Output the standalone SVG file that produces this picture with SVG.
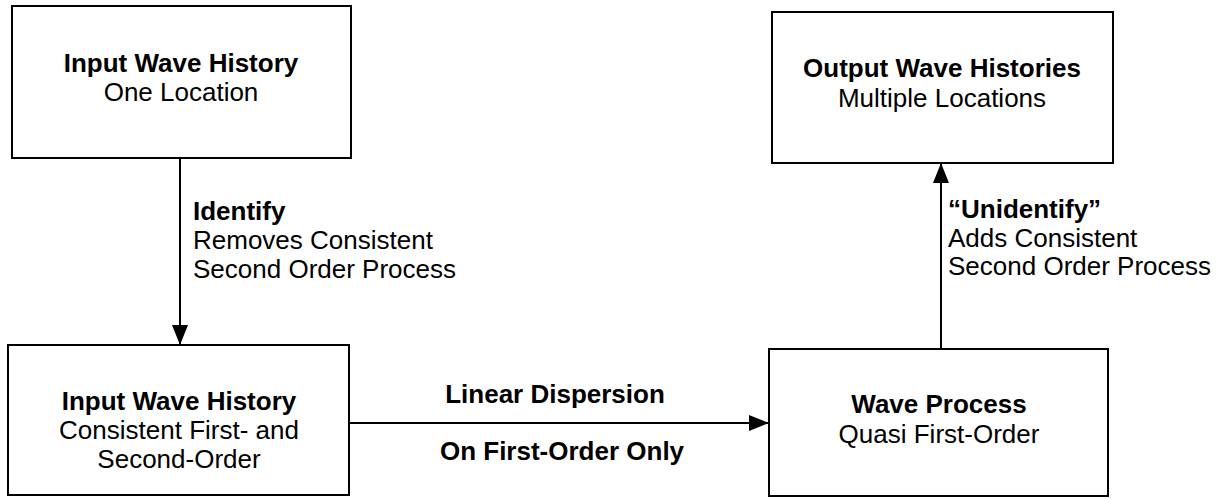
<svg xmlns="http://www.w3.org/2000/svg" width="1217" height="499" viewBox="0 0 1217 499">
  <style>
    .box { fill: #ffffff; stroke: #000000; stroke-width: 2; }
    .wire { fill: none; stroke: #000000; stroke-width: 2; }
    text { font-family: "Liberation Sans", Arial, sans-serif; font-size: 26px; fill: #000000; }
    .title { font-weight: bold; }
    .mid { text-anchor: middle; }
  </style>
  <defs>
    <marker id="arrow" viewBox="0 0 20 16" refX="20" refY="8" markerWidth="20" markerHeight="16" markerUnits="userSpaceOnUse" orient="auto">
      <path d="M0,0 L20,8 L0,16 Z" fill="#000000"/>
    </marker>
  </defs>
  <rect width="1217" height="499" fill="#ffffff"/>

  <g id="node-input-one-location">
    <rect class="box" x="12" y="6" width="339" height="152"/>
    <text class="title mid" x="181" y="72">Input Wave History</text>
    <text class="mid" x="181" y="101">One Location</text>
  </g>

  <g id="node-output-histories">
    <rect class="box" x="772" y="12" width="341" height="151"/>
    <text class="title mid" x="942" y="77">Output Wave Histories</text>
    <text class="mid" x="942" y="107">Multiple Locations</text>
  </g>

  <g id="node-input-consistent">
    <rect class="box" x="8" y="345" width="341" height="150"/>
    <text class="title mid" x="179" y="410">Input Wave History</text>
    <text class="mid" x="179" y="439">Consistent First- and</text>
    <text class="mid" x="179" y="468">Second-Order</text>
  </g>

  <g id="node-wave-process">
    <rect class="box" x="769" y="349" width="339" height="147"/>
    <text class="title mid" x="939" y="413">Wave Process</text>
    <text class="mid" x="939" y="443">Quasi First-Order</text>
  </g>

  <g id="connectors">
    <line class="wire" x1="180" y1="158" x2="180" y2="345" marker-end="url(#arrow)"/>
    <line class="wire" x1="349" y1="423" x2="769" y2="423" marker-end="url(#arrow)"/>
    <line class="wire" x1="941" y1="349" x2="941" y2="163" marker-end="url(#arrow)"/>
  </g>

  <g id="labels">
    <text class="title" x="193" y="220">Identify</text>
    <text x="193" y="249">Removes Consistent</text>
    <text x="193" y="278">Second Order Process</text>

    <text class="title mid" x="555" y="403">Linear Dispersion</text>
    <text class="title mid" x="562" y="460">On First-Order Only</text>

    <text class="title" x="948" y="218">“Unidentify”</text>
    <text x="948" y="247">Adds Consistent</text>
    <text x="948" y="275">Second Order Process</text>
  </g>
</svg>
